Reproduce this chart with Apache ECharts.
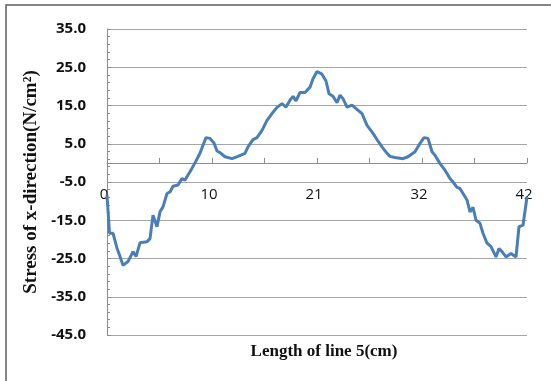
<!DOCTYPE html>
<html>
<head>
<meta charset="utf-8">
<script src="https://cdn.jsdelivr.net/npm/echarts@6/dist/echarts.min.js"></script>
<style>
  html, body { margin: 0; padding: 0; background: #fff; }
  #chart { width: 551px; height: 381px; }
</style>
</head>
<body>
<div id="chart"></div>
<script>
// length along line 5 (cm)
const xValues = [
  0, 0.25, 0.6, 1.0, 1.25, 1.6, 2.1, 2.6, 2.9, 3.3, 4.0, 4.3, 4.6, 5.0, 5.3, 5.6, 6.0, 6.3, 6.6, 7.1,
  7.5, 7.8, 8.3, 8.8, 9.3, 9.6, 9.9, 10.3, 10.7, 11.0, 11.3, 11.8, 12.5, 13.1, 13.8, 14.1, 14.6, 15.0,
  15.5, 16.0, 16.5, 17.0, 17.5, 17.9, 18.3, 18.6, 18.9, 19.3, 19.8, 20.3, 20.6, 21.0, 21.5, 21.9, 22.2,
  22.6, 23.0, 23.3, 23.6, 24.0, 24.5, 25.0, 25.5, 26.0, 26.5, 27.0, 27.5, 28.0, 28.3, 28.8, 29.6, 30.1,
  30.8, 31.3, 31.7, 32.1, 32.5, 32.8, 33.3, 33.8, 34.3, 34.6, 35.0, 35.3, 35.6, 36.0, 36.3, 36.6, 36.9,
  37.3, 37.6, 38.0, 38.4, 38.9, 39.2, 39.5, 39.9, 40.4, 40.6, 40.9, 41.2, 41.6, 42.0
];
// stress of x-direction (N/cm2)
const stressValues = [
  -8.5, -18.4, -18.4, -22.3, -24.1, -26.8, -25.8, -23.2, -24.5, -20.9, -20.6, -19.8, -13.7, -16.7, -12.8,
  -11.5, -8.0, -7.6, -6.1, -5.8, -4.1, -4.5, -2.3, 0, 2.5, 4.6, 6.6, 6.4, 5.2, 3.1, 2.7, 1.6, 1.1, 1.7,
  2.5, 4.2, 6.1, 6.6, 8.5, 11.1, 12.9, 14.5, 15.5, 14.6, 16.4, 17.4, 16.2, 18.4, 18.4, 19.8, 22.0, 23.9,
  23.2, 21.4, 18.1, 17.4, 15.7, 17.7, 16.8, 14.6, 15.1, 14.0, 12.9, 9.8, 8.1, 6.1, 4.2, 2.5, 1.7, 1.4,
  1.1, 1.6, 2.9, 5.1, 6.6, 6.4, 2.9, 2.0, -0.2, -1.9, -4.1, -5.0, -6.4, -6.7, -8.0, -9.7, -12.8, -11.6,
  -15.0, -15.8, -18.4, -21.0, -21.9, -24.6, -22.4, -23.2, -24.6, -23.7, -23.2, -24.6, -16.7, -16.3, -8.9
];
// labels shown on every other x tick
const xTickLabels = ['0', '10', '21', '32', '42'];

const xStep = 5.25;
const yMin = -45;
const yMax = 35;
const gridTop = 29;
const gridBottom = 46;
const chartHeight = 381;
// lift the x axis up to the zero line of the y axis
const plotHeight = chartHeight - gridTop - gridBottom;
const zeroOffset = -plotHeight * (0 - yMin) / (yMax - yMin);

const chart = echarts.init(document.getElementById('chart'));

const option = {
    animation: false,
    backgroundColor: '#fff',
    graphic: [
        {
            type: 'rect',
            shape: { x: 6, y: 5, width: 600, height: 420 },
            style: { fill: 'none', stroke: '#5f5f5f', lineWidth: 1.5 },
            silent: true,
        },
    ],
    grid: {
        left: 107,
        right: 24,
        top: gridTop,
        bottom: gridBottom,
        containLabel: false,
        outerBoundsMode: 'none',
    },
    xAxis: {
        type: 'value',
        min: 0,
        max: 42,
        interval: xStep,
        offset: zeroOffset,
        name: 'Length of line 5(cm)',
        nameLocation: 'middle',
        nameGap: 180,
        nameTextStyle: {
            fontFamily: 'Liberation Serif',
            fontWeight: 'bold',
            fontSize: 17,
            color: '#111',
            padding: [0, 0, 0, 14],
        },
        axisLine: {
            onZero: false,
            lineStyle: { color: '#8c8c8c', width: 1 },
        },
        axisTick: {
            show: true,
            inside: true,
            length: 5,
            lineStyle: { color: '#8c8c8c' },
        },
        axisLabel: {
            margin: 24,
            fontFamily: 'Open Sans',
            fontSize: 15,
            color: '#111',
            padding: [0, 6, 0, 0],
            formatter: function (value) {
                const i = Math.round(value / xStep);
                return i % 2 === 0 ? xTickLabels[i / 2] : '';
            },
        },
        splitLine: { show: false },
    },
    yAxis: {
        type: 'value',
        min: yMin,
        max: yMax,
        interval: 10,
        name: 'Stress of x-direction(N/cm²)',
        nameLocation: 'middle',
        nameGap: 63,
        nameTextStyle: {
            fontFamily: 'Liberation Serif',
            fontWeight: 'bold',
            fontSize: 19,
            color: '#111',
        },
        axisLine: {
            show: true,
            lineStyle: { color: '#8c8c8c', width: 1 },
        },
        axisTick: {
            show: true,
            inside: true,
            length: 4,
            lineStyle: { color: '#8c8c8c' },
        },
        minorTick: {
            show: true,
            splitNumber: 5,
            length: 3,
            lineStyle: { color: '#8c8c8c' },
        },
        axisLabel: {
            margin: 21,
            fontFamily: 'Open Sans',
            fontWeight: 'bold',
            fontSize: 15,
            color: '#111',
            formatter: function (value) {
                return value.toFixed(1);
            },
        },
        splitLine: {
            show: true,
            lineStyle: { color: '#a6a6a6', width: 1 },
        },
    },
    series: [
        {
            name: 'Stress',
            type: 'line',
            data: xValues.map((x, i) => [x, stressValues[i]]),
            symbol: 'none',
            lineStyle: { color: '#4a7ebb', width: 3 },
        },
    ],
};
chart.setOption(option);
</script>
</body>
</html>
